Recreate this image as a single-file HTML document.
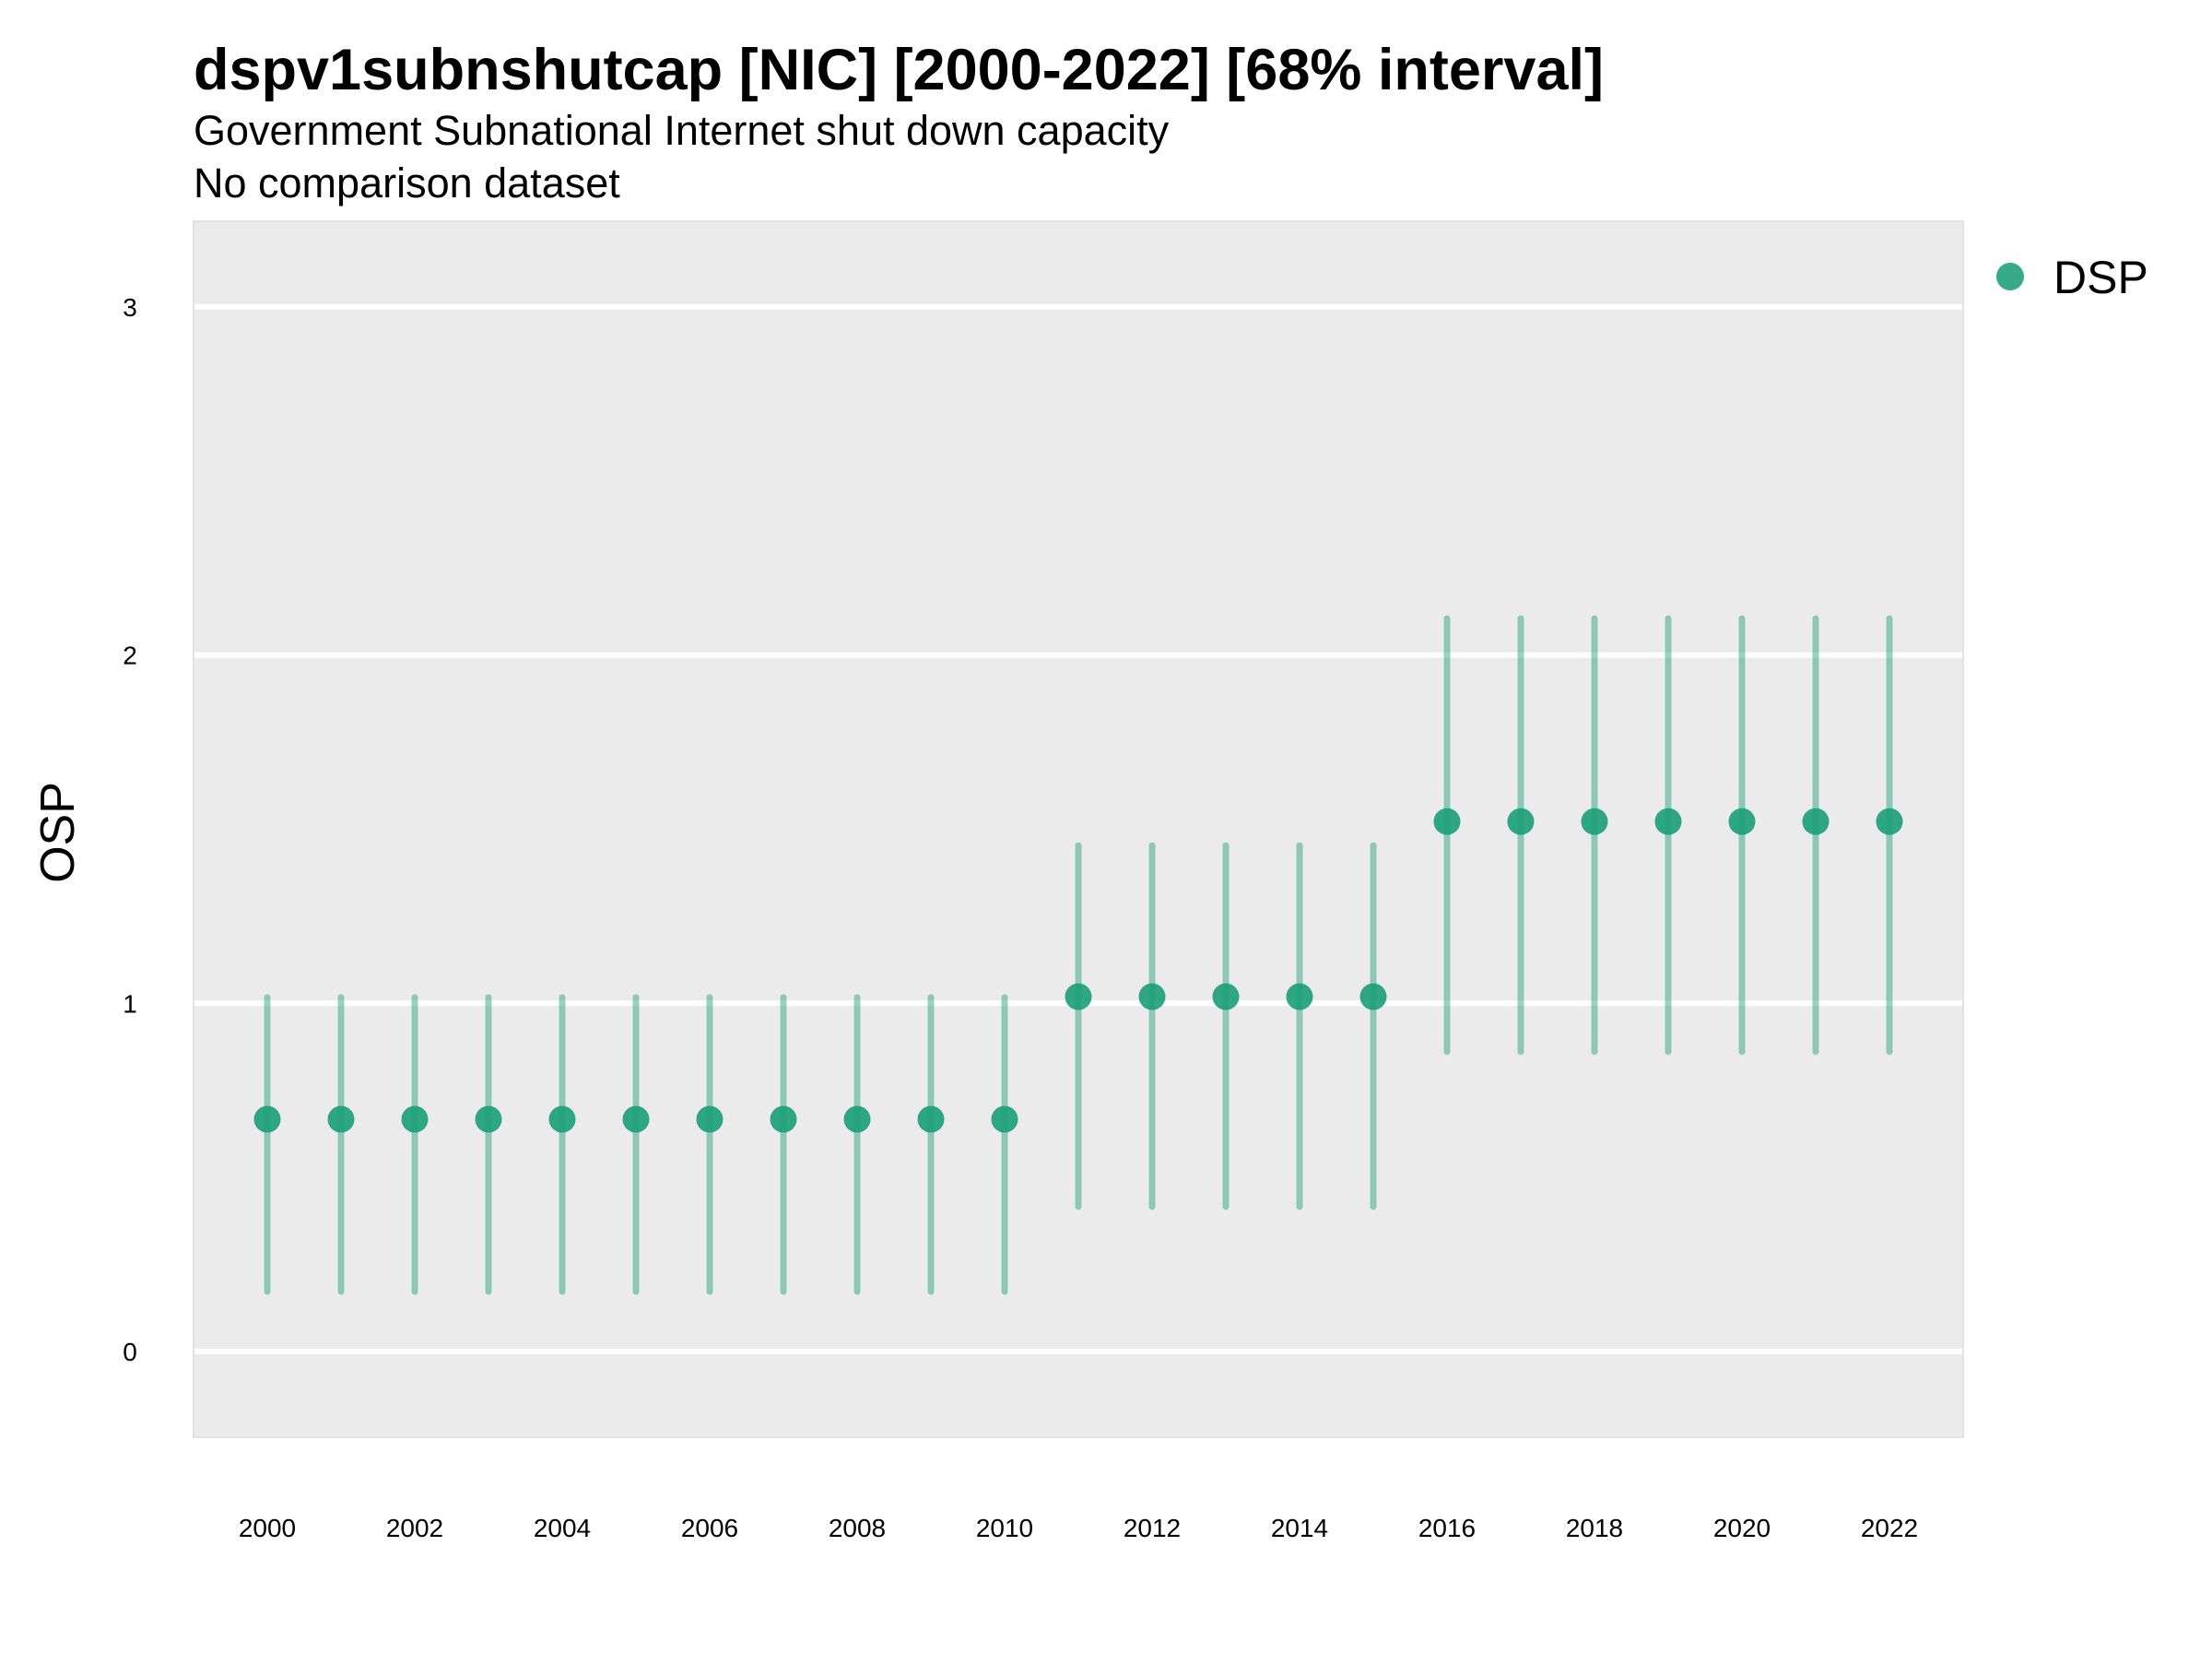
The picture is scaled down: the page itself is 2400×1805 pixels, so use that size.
<!DOCTYPE html>
<html><head><meta charset="utf-8"><style>
body{margin:0;background:#fff;}
svg text{font-family:"Liberation Sans",sans-serif;}
</style></head><body>
<svg id="chart" width="2400" height="1800" viewBox="0 0 2400 1800" xmlns="http://www.w3.org/2000/svg">
<rect width="2400" height="1800" fill="#fff"/>
<text x="210" y="97" font-size="63" font-weight="bold">dspv1subnshutcap [NIC] [2000-2022] [68% interval]</text>
<text x="210" y="157" font-size="45">Government Subnational Internet shut down capacity</text>
<text x="210" y="214" font-size="45">No comparison dataset</text>
<rect x="210" y="240" width="1920" height="1319" fill="#ebebeb" stroke="#e2e2e2" stroke-width="2"/>
<g id="grid"></g>
<g id="bars"></g>
<g id="points"></g>
<g id="yticks"></g>
<g id="xticks"></g>
<text transform="translate(80,903) rotate(-90)" text-anchor="middle" font-size="52">OSP</text>
<circle cx="2181" cy="300" r="15" fill="#1b9e77" fill-opacity="0.88"/>
<text x="2228" y="318" font-size="50">DSP</text>
</svg>
<script>
const years=[2000,2001,2002,2003,2004,2005,2006,2007,2008,2009,2010,2011,2012,2013,2014,2015,2016,2017,2018,2019,2020,2021,2022];
const values=[0.667,0.667,0.667,0.667,0.667,0.667,0.667,0.667,0.667,0.667,0.667,1.019,1.019,1.019,1.019,1.019,1.522,1.522,1.522,1.522,1.522,1.522,1.522];
const lower=[0.172,0.172,0.172,0.172,0.172,0.172,0.172,0.172,0.172,0.172,0.172,0.416,0.416,0.416,0.416,0.416,0.861,0.861,0.861,0.861,0.861,0.861,0.861];
const upper=[1.017,1.017,1.017,1.017,1.017,1.017,1.017,1.017,1.017,1.017,1.017,1.453,1.453,1.453,1.453,1.453,2.105,2.105,2.105,2.105,2.105,2.105,2.105];
const yTicks=[0,1,2,3];
const xTicks=[2000,2002,2004,2006,2008,2010,2012,2014,2016,2018,2020,2022];
const NS="http://www.w3.org/2000/svg";
function xs(v){return 290+(v-2000)*80;}
function ys(v){return 1466-v*377.7;}
function mk(parent,tag,attrs){const e=document.createElementNS(NS,tag);for(const k in attrs)e.setAttribute(k,attrs[k]);document.getElementById(parent).appendChild(e);return e;}
yTicks.forEach(t=>{
  const l=mk('grid','line',{x1:211,x2:2129,y1:ys(t),y2:ys(t),stroke:'#fff','stroke-width':6});
  
  
  const tx=mk('yticks','text',{x:141,y:ys(t)+10,'text-anchor':'middle','font-size':28});
  
  
  tx.textContent=t;
});
xTicks.forEach(t=>{
  const tx=mk('xticks','text',{x:xs(t),y:1667,'text-anchor':'middle','font-size':28});
  
  
  tx.textContent=t;
});
years.forEach((y,i)=>{
  const b=mk('bars','line',{x1:xs(y),x2:xs(y),y1:ys(lower[i]),y2:ys(upper[i]),stroke:'#1b9e77','stroke-opacity':0.45,'stroke-width':7,'stroke-linecap':'round'});
  
  
  const c=mk('points','circle',{cx:xs(y),cy:ys(values[i]),r:14.5,fill:'#1b9e77','fill-opacity':0.9});
  
  
});
</script>
</body></html>
